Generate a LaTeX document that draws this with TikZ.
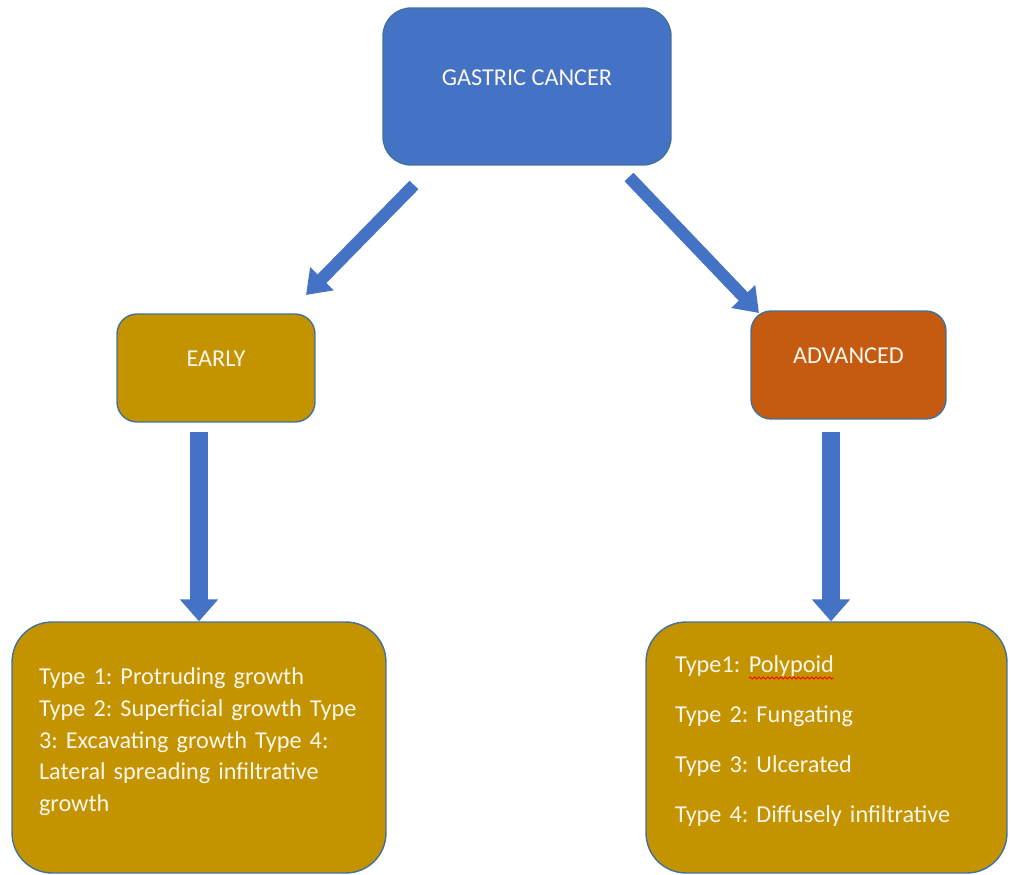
\documentclass[tikz,border=0pt]{standalone}
\usepackage{fontspec}
\setmainfont{Carlito}
\usetikzlibrary{arrows.meta}
\usetikzlibrary{calc}
\usetikzlibrary{decorations.pathmorphing}
\definecolor{mainblue}{HTML}{4472C4}
\definecolor{earlygold}{HTML}{C49300}
\definecolor{advorange}{HTML}{C55A11}
\definecolor{edgeblue}{HTML}{41719C}
\definecolor{txtwhite}{HTML}{FBF6EC}
\tikzstyle{box}=[draw=edgeblue,line width=.8pt,text=txtwhite,font=\fontsize{13.8pt}{18.1pt}\selectfont\frenchspacing]
\tikzstyle{flow}=[draw=mainblue,line width=10.5pt,-{Triangle[width=21pt,length=12.5pt]}]
\tikzstyle{slant}=[draw=mainblue,line width=7pt,-{Triangle[width=18pt,length=13pt]}]
\newcommand\spellmark[1]{\begin{tikzpicture}[baseline=(w.base),x=1cm,y=1cm]
  \node[inner sep=0pt,outer sep=0pt,text width=,text depth=,minimum width=0pt,minimum height=0pt,draw=none,fill=none,sharp corners] (w) {#1};
  \draw[red,line width=.5pt,sharp corners,decorate,decoration={snake,amplitude=.6pt,segment length=2.5pt}] ([yshift=-.8pt]w.south west) -- ([yshift=-.8pt]w.south east);
\end{tikzpicture}}

\begin{document}
\begin{tikzpicture}[x=0.02cm,y=-0.02cm]
\useasboundingbox (0,0) rectangle (1011,875);
\node[box,fill=mainblue,rounded corners=0.56cm,minimum width=5.76cm,minimum height=3.14cm,text depth=10pt] (gastric) at (527,86.5) {GASTRIC CANCER};
\node[box,fill=earlygold,rounded corners=0.4cm,minimum width=3.96cm,minimum height=2.16cm,text depth=11pt] (early) at (216,368) {EARLY};
\node[box,fill=advorange,rounded corners=0.4cm,minimum width=3.9cm,minimum height=2.16cm,text depth=11pt] (advanced) at (848.5,365) {ADVANCED};
\node[box,fill=earlygold,rounded corners=0.8cm,text width=6.4cm,inner xsep=0.54cm,minimum height=5.02cm,align=left] (earlytypes) at (199,747.5)
  {Type 1: Protruding growth\\ \mbox{Type 2: Superficial growth Type}\\ 3: Excavating growth Type 4:\\ Lateral spreading infiltrative\\ growth\rule[-9pt]{0pt}{0pt}};
\node[box,fill=earlygold,rounded corners=0.8cm,text width=6.06cm,inner xsep=0.58cm,minimum height=5.02cm,align=left,
  font=\fontsize{13.8pt}{28.4pt}\selectfont\frenchspacing] (advtypes) at (826.5,747.5)
  {Type1: \spellmark{Polypoid}\\ Type 2: Fungating\\ Type 3: Ulcerated\\ Type 4: Diffusely infiltrative\rule[-9.6pt]{0pt}{0pt}};
% arrows
\coordinate (dl) at (414,185);
\coordinate (dle) at (306,295);
\coordinate (dr) at (629,177);
\coordinate (dre) at (759,313);
\coordinate (vl) at (199,432);
\coordinate (vr) at (831,432);
\draw[slant] (dl) -- (dle);
\draw[slant] (dr) -- (dre);
\draw[flow] (vl) -- (vl |- earlytypes.north);
\draw[flow] (vr) -- (vr |- advtypes.north);
\end{tikzpicture}
\end{document}
